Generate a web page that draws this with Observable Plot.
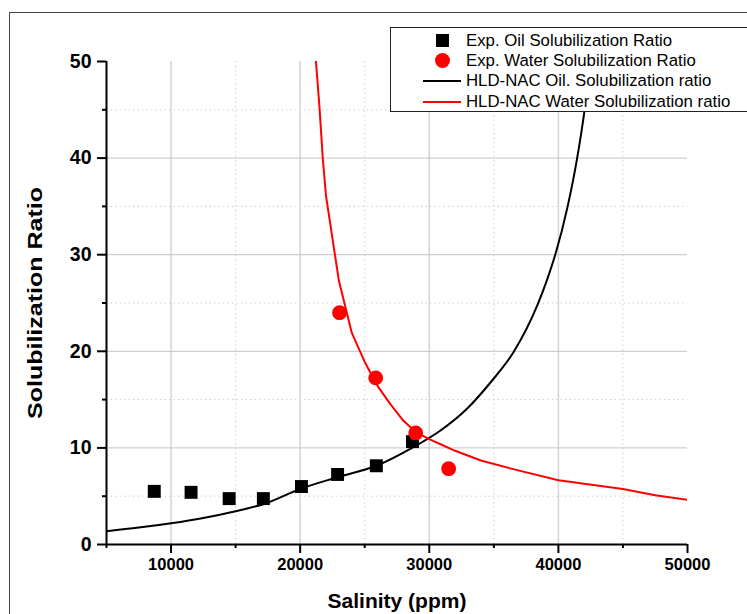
<!DOCTYPE html>
<html>
<head>
<meta charset="utf-8">
<script src="https://cdn.jsdelivr.net/npm/d3@7"></script>
<script src="https://cdn.jsdelivr.net/npm/@observablehq/plot@0.6"></script>
<style>
  html, body { margin: 0; padding: 0; background: #fff; overflow: hidden; }
  #wrap { position: relative; width: 747px; height: 614px; font-family: Arial, "Liberation Sans", sans-serif; }
  #border { position: absolute; left: 9px; top: 12px; width: 900px; height: 900px; border-top: 1px solid #444; border-left: 1px solid #444; }
  #legend { position: absolute; left: 390px; top: 27px; width: 420px; height: 83px; border: 1px solid #222; background: #fff; }
  .row { position: absolute; left: 0; height: 20px; width: 100%; }
  .row span { position: absolute; left: 75px; top: 0; line-height: 20px; font-size: 16.8px; color: #000; white-space: nowrap; }
  .sq { position: absolute; left: 44.5px; top: 3.5px; width: 13px; height: 13px; background: #000; }
  .ci { position: absolute; left: 43.5px; top: 2.5px; width: 15px; height: 15px; border-radius: 50%; background: #ff0000; }
  .ln { position: absolute; left: 32px; top: 9px; width: 38px; height: 2px; }
  svg { position: absolute; left: 0; top: 0; }
</style>
</head>
<body>
<div id="wrap">
  <div id="border"></div>
  <div id="chart"></div>
  <div id="legend"></div>
</div>
<script>
// Experimental oil solubilization ratio (squares)
const oilSalinity = [8700, 11550, 14500, 17150, 20100, 22900, 25900, 28700];
const oilRatio    = [5.5, 5.4, 4.75, 4.75, 6.0, 7.25, 8.15, 10.65];

// Experimental water solubilization ratio (circles)
const waterSalinity = [23050, 25850, 28950, 31500];
const waterRatio    = [24.0, 17.25, 11.55, 7.85];

// HLD-NAC oil solubilization curve
const oilCurveSalinity = [5000, 7500, 10000, 12500, 15000, 17200, 20000, 22900, 26000, 28800, 30870, 32880, 34820, 36520, 38380, 39120, 39780, 40700, 41440, 42020, 42490];
const oilCurveRatio    = [1.38, 1.75, 2.2, 2.75, 3.45, 4.2, 5.75, 6.97, 8.2, 10.1, 11.8, 14.0, 16.9, 19.9, 24.8, 27.4, 30.1, 34.9, 39.9, 44.9, 50.0];

// HLD-NAC water solubilization curve
const waterCurveSalinity = [21200, 21500, 21750, 22000, 23000, 24000, 25000, 26000, 27000, 28000, 29000, 30000, 31000, 32000, 34000, 36500, 40000, 45000, 47500, 50000];
const waterCurveRatio    = [50.4, 45.2, 40.0, 36.1, 27.3, 21.9, 18.9, 16.4, 14.5, 12.8, 11.6, 10.9, 10.3, 9.7, 8.7, 7.8, 6.65, 5.75, 5.1, 4.63];

// Ticks
const xMajorTicks = [10000, 20000, 30000, 40000, 50000];
const xMinorTicks = [5000, 15000, 25000, 35000, 45000];
const yMajorTicks = [0, 10, 20, 30, 40, 50];
const yMinorTicks = [5, 15, 25, 35, 45];
const xGrid = [10000, 20000, 30000, 40000];
const yGrid = [10, 20, 30, 40];

const xLabel = "Salinity (ppm)";
const yLabel = "Solubilization Ratio";

const legendItems = [
  {label: "Exp. Oil Solubilization Ratio", kind: "sq"},
  {label: "Exp. Water Solubilization Ratio", kind: "ci"},
  {label: "HLD-NAC Oil. Solubilization ratio", kind: "ln", color: "#000"},
  {label: "HLD-NAC Water Solubilization ratio", kind: "ln", color: "#ff0000"}
];

const oilPts = oilSalinity.map((x, i) => ({x, y: oilRatio[i]}));
const waterPts = waterSalinity.map((x, i) => ({x, y: waterRatio[i]}));
const oilCurve = oilCurveSalinity.map((x, i) => ({x, y: oilCurveRatio[i]}));
const waterCurve = waterCurveSalinity.map((x, i) => ({x, y: waterCurveRatio[i]}));

const font = "Arial, 'Liberation Sans', sans-serif";

const chart = Plot.plot({
  width: 747,
  height: 614,
  marginLeft: 106,
  marginRight: 60,
  marginTop: 61,
  marginBottom: 70,
  style: {fontFamily: font, background: "transparent", color: "#000"},
  x: {domain: [5000, 50000], axis: null},
  y: {domain: [0, 50], axis: null},
  marks: [
    // minor grid (dotted)
    Plot.ruleX(xMinorTicks.slice(1), {stroke: "#cfcfcf", strokeWidth: 1, strokeDasharray: "1.5,3"}),
    Plot.ruleY(yMinorTicks, {stroke: "#cfcfcf", strokeWidth: 1, strokeDasharray: "1.5,3"}),
    // major grid
    Plot.ruleX(xGrid, {stroke: "#d6d6d6", strokeWidth: 1.6}),
    Plot.ruleY(yGrid, {stroke: "#c4c4c4", strokeWidth: 1}),
    // curves
    Plot.line(oilCurve, {x: "x", y: "y", stroke: "#000", strokeWidth: 2, curve: "monotone-x", clip: true}),
    Plot.line(waterCurve, {x: "x", y: "y", stroke: "#ff0000", strokeWidth: 2, curve: "linear", clip: true}),
    // points
    Plot.dot(oilPts, {x: "x", y: "y", symbol: "square", r: 7.3, fill: "#000", stroke: "none"}),
    Plot.dot(waterPts, {x: "x", y: "y", symbol: "circle", r: 7.4, fill: "#ff0000", stroke: "none"}),
    // axes lines
    Plot.ruleY([0], {stroke: "#000", strokeWidth: 2}),
    Plot.ruleX([5000], {stroke: "#000", strokeWidth: 2}),
    // major ticks & labels
    Plot.axisX(xMajorTicks, {tickSize: 9, tickPadding: 5, strokeWidth: 2, fontSize: 16.5, fontWeight: "bold", label: null, tickFormat: d => String(d)}),
    Plot.axisY(yMajorTicks, {tickSize: 9, tickPadding: 6, strokeWidth: 2, fontSize: 19.5, fontWeight: "bold", label: null, tickFormat: d => String(d)}),
    // minor ticks
    Plot.axisX(xMinorTicks, {tickSize: 4, strokeWidth: 2, text: null, label: null}),
    Plot.axisY(yMinorTicks, {tickSize: 4, strokeWidth: 2, text: null, label: null}),
    // axis titles
    Plot.text([xLabel], {frameAnchor: "bottom", dy: 63, lineAnchor: "bottom", textAnchor: "middle", fontSize: 21, fontWeight: "bold", text: d => d}),
    Plot.text([yLabel], {frameAnchor: "left", dx: -71, rotate: -90, lineAnchor: "middle", textAnchor: "middle", fontSize: 20.5, fontWeight: "bold", text: d => d})
  ]
});
document.getElementById("chart").appendChild(chart);
// stretch the y title to the reference length
d3.select(chart).selectAll("text").filter(function() { return this.textContent === yLabel; })
  .attr("textLength", 232).attr("lengthAdjust", "spacingAndGlyphs");

// legend
const legend = document.getElementById("legend");
const rowTops = [2.5, 22.5, 43, 63.5];
legendItems.forEach((it, i) => {
  const row = document.createElement("div");
  row.className = "row";
  row.style.top = rowTops[i] + "px";
  const sym = document.createElement("div");
  sym.className = it.kind;
  if (it.kind === "ln") sym.style.background = it.color;
  row.appendChild(sym);
  const t = document.createElement("span");
  t.textContent = it.label;
  row.appendChild(t);
  legend.appendChild(row);
});
</script>
</body>
</html>
